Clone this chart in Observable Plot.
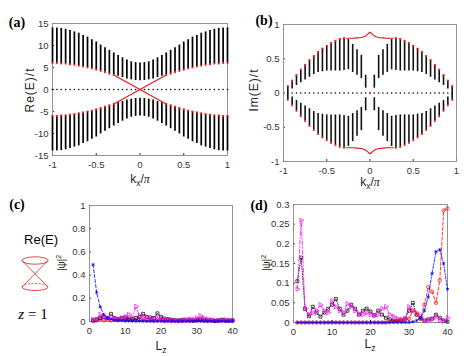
<!DOCTYPE html>
<html><head><meta charset="utf-8">
<script src="https://cdn.jsdelivr.net/npm/d3@7"></script>
<script src="https://cdn.jsdelivr.net/npm/@observablehq/plot@0.6"></script>
<style>
html,body{margin:0;padding:0;background:#fff;}
#fig{position:relative;width:464px;height:356px;overflow:hidden;background:#fff;font-family:"Liberation Sans",Arial,sans-serif;}
.p{position:absolute;}
.t{position:absolute;transform:translate(-50%,-50%);white-space:nowrap;line-height:1;color:#262626;font-size:12px;}
.rot{transform:translate(-50%,-50%) rotate(-90deg);}
.pl{font-family:"Liberation Serif","Times New Roman",serif;font-weight:bold;font-size:14px;color:#000;}
sub,sup{font-size:70%;}
</style></head><body><div id="fig"></div>
<script>
// ---------- data ----------
// panel (a): Re(E)/t bulk bands vs kx/pi
const kxA = [-1,-0.95,-0.9,-0.85,-0.8,-0.75,-0.7,-0.65,-0.6,-0.55,-0.5,-0.45,-0.4,-0.35,-0.3,-0.25,-0.2,-0.15,-0.1,-0.05,0,0.05,0.1,0.15,0.2,0.25,0.3,0.35,0.4,0.45,0.5,0.55,0.6,0.65,0.7,0.75,0.8,0.85,0.9,0.95,1];
const outerA = [14,14,13.9,13.7,13.4,13.1,12.8,12.3,11.9,11.3,10.8,10.1,9.5,8.9,8.3,7.7,7.2,6.7,6.3,6.1,6.0,6.1,6.3,6.7,7.2,7.7,8.3,8.9,9.5,10.1,10.8,11.3,11.9,12.3,12.8,13.1,13.4,13.7,13.9,14,14];
const innerA = [6.0,6.0,5.9,5.9,5.7,5.6,5.4,5.2,5.0,4.8,4.5,4.2,3.9,3.6,3.3,3.0,2.7,2.4,2.2,2.05,2.0,2.05,2.2,2.4,2.7,3.0,3.3,3.6,3.9,4.2,4.5,4.8,5.0,5.2,5.4,5.6,5.7,5.9,5.9,6.0,6.0];
const surfKxA = [-0.3,0,0.3];
const surfEA1 = [3.3,0,-3.3];
const surfEA2 = [-3.3,0,3.3];

// panel (b): Im(E)/t bulk bands vs kx/pi
const kxB = [-0.95,-0.9,-0.85,-0.8,-0.75,-0.7,-0.65,-0.6,-0.55,-0.5,-0.45,-0.4,-0.35,-0.3,-0.25,-0.2,-0.15,-0.1,-0.05,0.05,0.1,0.15,0.2,0.25,0.3,0.35,0.4,0.45,0.5,0.55,0.6,0.65,0.7,0.75,0.8,0.85,0.9,0.95];
const topB = [0.10,0.18,0.26,0.34,0.41,0.48,0.54,0.60,0.65,0.69,0.73,0.76,0.79,0.80,0.78,0.71,0.63,0.55,0.26,0.26,0.55,0.63,0.71,0.78,0.80,0.79,0.76,0.73,0.69,0.65,0.60,0.54,0.48,0.41,0.34,0.26,0.18,0.10];
const botB = [0.0,0.06,0.11,0.15,0.19,0.23,0.27,0.30,0.31,0.32,0.32,0.32,0.32,0.33,0.34,0.30,0.26,0.21,0.07,0.07,0.21,0.26,0.30,0.34,0.33,0.32,0.32,0.32,0.32,0.31,0.30,0.27,0.23,0.19,0.15,0.11,0.06,0.0];
const kxZeroB = [-0.95,-0.9,-0.85,-0.8,-0.75,-0.7,-0.65,-0.6,-0.55,-0.5,-0.45,-0.4,-0.35,-0.3,-0.25,-0.2,-0.15,-0.1,-0.05,0,0.05,0.1,0.15,0.2,0.25,0.3,0.35,0.4,0.45,0.5,0.55,0.6,0.65,0.7,0.75,0.8,0.85,0.9,0.95];
const surfKxB = [-0.27,-0.2,-0.15,-0.1,-0.07,-0.05,-0.03,-0.015,0,0.015,0.03,0.05,0.07,0.1,0.15,0.2,0.27];
const surfImB = [0.80,0.80,0.805,0.81,0.82,0.835,0.855,0.872,0.89,0.872,0.855,0.835,0.82,0.81,0.805,0.80,0.80];

// panels (c),(d): |psi|^2 vs Lz
const Lz = [1,2,3,4,5,6,7,8,9,10,11,12,13,14,15,16,17,18,19,20,21,22,23,24,25,26,27,28,29,30,31,32,33,34,35,36,37,38,39,40];
const blueC = [0.49,0.25,0.125,0.06,0.03,0.02,0.012,0.01,0.008,0.006,0.005,0.005,0.004,0.004,0.003,0.003,0.003,0.003,0.002,0.002,0.002,0.002,0.002,0.002,0.002,0.002,0.002,0.002,0.002,0.002,0.002,0.002,0.002,0.002,0.002,0.002,0.002,0.002,0.002,0.002];
const magentaC = [0.02,0.01,0.06,0.04,0.03,0.04,0.03,0.02,0.03,0.04,0.06,0.03,0.13,0.05,0.03,0.04,0.02,0.02,0.03,0.02,0.015,0.01,0.01,0.01,0.005,0.01,0.015,0.02,0.02,0.03,0.05,0.03,0.02,0.015,0.01,0.01,0.01,0.015,0.01,0.01];
const blackC = [0.01,0.02,0.03,0.04,0.03,0.066,0.03,0.02,0.03,0.035,0.025,0.02,0.03,0.04,0.066,0.04,0.035,0.03,0.07,0.04,0.025,0.02,0.015,0.01,0.01,0.015,0.01,0.015,0.01,0.015,0.02,0.015,0.01,0.01,0.005,0.01,0.015,0.01,0.01,0.01];
const redC = [0.005,0.01,0.02,0.01,0.02,0.01,0.015,0.01,0.02,0.01,0.015,0.01,0.01,0.015,0.01,0.01,0.01,0.005,0.01,0.01,0.005,0.01,0.005,0.01,0.005,0.005,0.01,0.005,0.005,0.01,0.01,0.005,0.005,0.01,0.005,0.005,0.01,0.005,0.005,0.005];
const magentaD = [0.085,0.26,0.035,0.02,0.025,0.03,0.045,0.03,0.025,0.055,0.04,0.03,0.025,0.048,0.04,0.03,0.022,0.02,0.025,0.02,0.018,0.02,0.035,0.04,0.02,0.015,0.01,0.008,0.01,0.04,0.03,0.025,0.015,0.005,0.005,0.008,0.015,0.006,0.004,0.012];
const blackD = [0.105,0.165,0.035,0.016,0.04,0.025,0.015,0.025,0.035,0.045,0.06,0.035,0.02,0.03,0.045,0.035,0.02,0.03,0.035,0.028,0.018,0.03,0.02,0.012,0.008,0.005,0.005,0.005,0.01,0.03,0.05,0.02,0.01,0.005,0.008,0.01,0.02,0.012,0.005,0.002];
const blueD = [0,0,0,0,0,0,0,0,0,0,0,0,0,0,0,0,0,0,0,0,0,0,0,0,0,0,0,0,0,0,0.002,0.005,0.012,0.03,0.065,0.125,0.18,0.185,0.15,0.085];
const redD = [0,0,0,0,0,0,0,0,0,0,0,0,0,0,0,0,0,0,0,0,0,0,0,0,0.002,0.003,0.004,0.005,0.006,0.01,0.03,0.02,0.01,0.045,0.09,0.078,0.05,0.107,0.285,0.29];

// tick values
const xTicksAB = [-1,-0.5,0,0.5,1];
const yTicksA = [-15,-10,-5,0,5,10,15];
const yTicksB = [-1,-0.5,0,0.5,1];
const xTicksCD = [0,10,20,30,40];
const yTicksC = [0,0.2,0.4,0.6,0.8,1];
const yTicksD = [0,0.05,0.1,0.15,0.2,0.25,0.3];

// ---------- drawing ----------
const fig = document.getElementById("fig");
const fmt = d => String(d);
function panel(o) {
  const svg = Plot.plot({
    width: o.width, height: o.height,
    marginLeft: o.mL, marginRight: o.mR, marginTop: o.mT, marginBottom: o.mB,
    style: {background: "transparent", overflow: "visible", maxWidth: "none", fontFamily: "'Liberation Sans', Arial, sans-serif", fontSize: "9.5px", color: "#333"},
    x: {domain: o.xDomain, ticks: o.xTicks, tickFormat: fmt, tickSize: -2, tickPadding: 8, label: null},
    y: {domain: o.yDomain, ticks: o.yTicks, tickFormat: fmt, tickSize: -2, tickPadding: 6, label: null},
    marks: [Plot.frame({stroke: "#8a8a8a", strokeWidth: 0.9}), ...o.marks]
  });
  const div = document.createElement("div");
  div.className = "p";
  div.style.left = o.left + "px";
  div.style.top = o.top + "px";
  div.appendChild(svg);
  fig.appendChild(div);
}

// (a)
const bandA = kxA.map((k, i) => ({k, lo: innerA[i], hi: outerA[i]}));
const edgeA = bandA.filter(d => Math.abs(d.k) >= 0.3);
const surfA1 = surfKxA.map((k, i) => ({k, E: surfEA1[i]}));
const surfA2 = surfKxA.map((k, i) => ({k, E: surfEA2[i]}));
panel({
  left: 0, top: 0, width: 232, height: 190, mL: 52, mR: 5, mT: 23, mB: 35,
  xDomain: [-1, 1], yDomain: [-15, 15], xTicks: xTicksAB, yTicks: yTicksA,
  marks: [
    Plot.ruleX(bandA, {x: "k", y1: "lo", y2: "hi", stroke: "#000", strokeWidth: 1.7}),
    Plot.ruleX(bandA, {x: "k", y1: d => -d.lo, y2: d => -d.hi, stroke: "#000", strokeWidth: 1.7}),
    Plot.dot(kxA, {x: d => d, y: 0, r: 0.8, fill: "#000", stroke: null}),
    Plot.line(surfA1, {x: "k", y: "E", stroke: "#e8141c", strokeWidth: 1.1}),
    Plot.line(surfA2, {x: "k", y: "E", stroke: "#e8141c", strokeWidth: 1.1}),
    Plot.dot(edgeA, {x: "k", y: "lo", r: 1.1, fill: "#ff2020", stroke: null}),
    Plot.dot(edgeA, {x: "k", y: d => -d.lo, r: 1.1, fill: "#ff2020", stroke: null})
  ]
});

// (b)
const bandB = kxB.map((k, i) => ({k, lo: botB[i], hi: topB[i]}));
const edgeB = bandB.filter(d => Math.abs(d.k) >= 0.3);
const surfB = surfKxB.map((k, i) => ({k, v: surfImB[i]}));
panel({
  left: 232, top: 0, width: 232, height: 190, mL: 51, mR: 8, mT: 24, mB: 29,
  xDomain: [-1, 1], yDomain: [-1, 1], xTicks: xTicksAB, yTicks: yTicksB,
  marks: [
    Plot.ruleX(bandB, {x: "k", y1: "lo", y2: "hi", stroke: "#111", strokeWidth: 1.6}),
    Plot.ruleX(bandB, {x: "k", y1: d => -d.lo, y2: d => -d.hi, stroke: "#111", strokeWidth: 1.6}),
    Plot.dot(kxZeroB, {x: d => d, y: 0, r: 0.8, fill: "#000", stroke: null}),
    Plot.line(surfB, {x: "k", y: "v", stroke: "#e8141c", strokeWidth: 1.1}),
    Plot.line(surfB, {x: "k", y: d => -d.v, stroke: "#e8141c", strokeWidth: 1.1}),
    Plot.dot(edgeB, {x: "k", y: "hi", r: 1.1, fill: "#ff2020", stroke: null}),
    Plot.dot(edgeB, {x: "k", y: d => -d.hi, r: 1.1, fill: "#ff2020", stroke: null}),
    Plot.dot([0], {x: d => d, y: 0, r: 1, fill: "#ff2020", stroke: null})
  ]
});

function series(vals, color, dash, symbol, rotate) {
  const data = Lz.map((z, i) => ({z, v: vals[i]}));
  return [
    Plot.line(data, {x: "z", y: "v", stroke: color, strokeWidth: 0.8, strokeDasharray: dash}),
    Plot.dot(data, {x: "z", y: "v", symbol, rotate, r: 1.7, stroke: color, strokeWidth: 0.7, fill: "none"})
  ];
}

// (c)
panel({
  left: 0, top: 190, width: 240, height: 166, mL: 89, mR: 8, mT: 15, mB: 35,
  xDomain: [0, 40], yDomain: [0, 1], xTicks: xTicksCD, yTicks: yTicksC,
  marks: [
    ...series(redC, "#ff0000", "3,2", "circle", 0),
    ...series(blackC, "#000000", "1,1.5", "square", 0),
    ...series(magentaC, "#ff00ff", "4,2,1,2", "triangle", 90),
    ...series(blueC, "#0000ff", "3,2", "asterisk", 0)
  ]
});

// (d)
panel({
  left: 232, top: 190, width: 232, height: 166, mL: 61, mR: 17, mT: 14, mB: 34,
  xDomain: [0, 40], yDomain: [0, 0.3], xTicks: xTicksCD, yTicks: yTicksD,
  marks: [
    ...series(blackD, "#000000", "1,1.5", "square", 0),
    ...series(magentaD, "#ff00ff", "4,2,1,2", "triangle", 90),
    ...series(redD, "#ff0000", "3,2", "circle", 0),
    ...series(blueD, "#0000ff", "3,1.5,1,1.5", "asterisk", 0)
  ]
});

// ---------- text ----------
function txt(html, x, y, cls, extra) {
  const d = document.createElement("div");
  d.className = "t " + (cls || "");
  d.innerHTML = html;
  d.style.left = x + "px";
  d.style.top = y + "px";
  if (extra) Object.assign(d.style, extra);
  fig.appendChild(d);
}
txt("(a)", 17, 23, "pl");
txt("(b)", 264, 21, "pl");
txt("(c)", 17, 205, "pl");
txt("(d)", 259, 206, "pl");
txt("Re(E)/t", 30, 90, "rot", {letterSpacing: "1px"});
txt("Im(E)/t", 254, 90, "rot", {letterSpacing: "1px"});
txt("k<sub>x</sub>/<i style='font-family:Liberation Serif,serif'>π</i>", 140, 180, "");
txt("k<sub>x</sub>/<i style='font-family:Liberation Serif,serif'>π</i>", 370, 183, "");
txt("|ψ|<sup>2</sup>", 61, 263, "rot", {fontSize: "10px"});
txt("|ψ|<sup>2</sup>", 266, 263, "rot", {fontSize: "10px"});
txt("L<sub>z</sub>", 161, 347, "");
txt("L<sub>z</sub>", 370, 345, "");
txt("Re(E)", 41, 239, "", {fontSize: "13px", color: "#000"});
txt("<i>z</i> = 1", 33, 314, "", {fontFamily: "'Liberation Serif','Times New Roman',serif", fontSize: "15px", color: "#000"});

// cone sketch
const ns = "http://www.w3.org/2000/svg";
const cone = document.createElementNS(ns, "svg");
cone.setAttribute("width", "70"); cone.setAttribute("height", "60");
cone.style.position = "absolute"; cone.style.left = "0px"; cone.style.top = "250px";
cone.innerHTML = `
<g fill="none" stroke="#e02020" stroke-width="0.8">
<ellipse cx="35" cy="10.5" rx="13" ry="3.7"/>
<line x1="22" y1="10.5" x2="48" y2="37"/>
<line x1="48" y1="10.5" x2="22" y2="37"/>
<path d="M22,37 A13,3.5 0 0 0 48,37"/>
<path d="M22,37 A13,3.5 0 0 1 48,37" stroke-dasharray="2,1.5"/>
</g>`;
fig.appendChild(cone);
</script></body></html>
